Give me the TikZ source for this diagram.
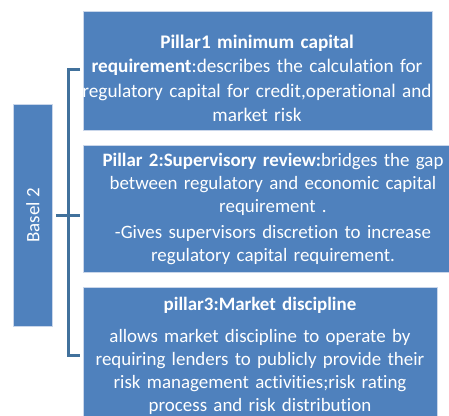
\documentclass[tikz,border=0pt]{standalone}
\usepackage{fontspec}
\setmainfont{Carlito}[Ligatures=NoCommon]
\definecolor{boxblue}{HTML}{4F81BD}
\definecolor{edgeblue}{HTML}{C9D6EA}
\definecolor{linkblue}{HTML}{41719C}
\begin{document}
\begin{tikzpicture}[x=1bp,y=-1bp,
  panel/.style={fill=boxblue, draw=edgeblue, line width=0.8bp, text=white,
    align=center, anchor=north west, inner sep=0pt,
    font=\fontsize{19}{23}\selectfont},
  paneltext/.style={text=white, align=center, anchor=base, inner sep=0pt,
    font=\fontsize{19}{23}\selectfont},
  bracket/.style={draw=linkblue, line width=3bp}]
\useasboundingbox (0,0) rectangle (449,415);
\clip (0,0) rectangle (449,415);

% left label
\node[panel, minimum width=39.6bp, minimum height=221.4bp] (basel) at (12.7,104.3)
  {\rotatebox{90}{Basel 2}};

% the three pillar panels
\node[panel, minimum width=349bp, minimum height=119bp] (p1) at (83,11) {};
\node[panel, minimum width=380bp, minimum height=127bp] (p2) at (83,145) {};
\node[panel, minimum width=354bp, minimum height=136bp] (p3) at (83,287) {};

% their texts, placed by the baseline of the first line
\node[paneltext, text width=370bp, font=\fontsize{19.3}{24.5}\selectfont] (t1) at (257,48.5)
  {\textbf{Pillar1 minimum capital}\\
   \textbf{requirement}:describes the calculation for\\
   regulatory capital for credit,operational and\\
   market risk};
\node[paneltext, text width=376bp] (t2) at (273,166.5)
  {\textbf{Pillar 2:Supervisory review:}bridges the gap\\
   between regulatory and economic capital\\
   requirement .\\[3bp]
   -Gives supervisors discretion to increase\\
   regulatory capital requirement.};
\node[paneltext, text width=370bp] (t3) at (260,310)
  {\textbf{pillar3:Market discipline}\\[10bp]
   allows market discipline to operate by\\
   requiring lenders to publicly provide their\\
   risk management activities;risk rating\\
   process and risk distribution};

% bracket joining the label to the pillars
\coordinate (spine) at (68,215);
\draw[bracket] ([xshift=-3bp,yshift=1.2bp]p1.west) -| (spine) |- ([xshift=-3bp]p3.west);
\draw[bracket] ([xshift=2.7bp]basel.east) -- ([xshift=-3bp]basel.east -| p2.west);
\end{tikzpicture}
\end{document}
